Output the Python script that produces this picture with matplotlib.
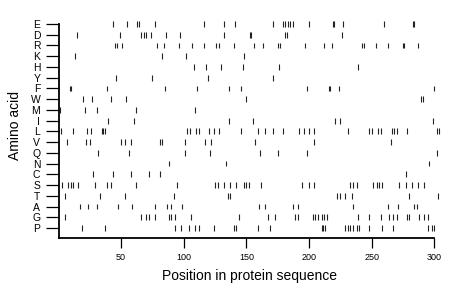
import numpy as np
import matplotlib
matplotlib.use("Agg")
import matplotlib.pyplot as plt

plt.rcParams['font.family'] = ['Liberation Sans', 'DejaVu Sans']

# amino acids, bottom row first
amino_acids = ['P', 'G', 'A', 'T', 'S', 'C', 'N', 'Q', 'V', 'L',
               'I', 'M', 'W', 'F', 'Y', 'H', 'K', 'R', 'D', 'E']

# positions of each residue in the sequence
pos_E = [44, 55, 63, 64, 77, 116, 132, 141, 171, 179, 181, 183, 185, 187,
         200, 219, 220, 227, 260, 283, 284]
pos_D = [15, 49, 66, 68, 70, 74, 86, 97, 132, 153, 154, 181, 182, 226]
pos_R = [45, 47, 51, 79, 84, 96, 107, 116, 126, 128, 140, 156, 163, 175, 177,
         197, 212, 218, 242, 244, 253, 263, 275, 276, 287]
pos_K = [13, 83, 102, 148]
pos_H = [108, 118, 130, 147, 176, 239]
pos_Y = [46, 75, 119, 171]
pos_F = [9, 10, 39, 85, 111, 136, 146, 198, 216, 217, 224, 300]
pos_W = [20, 27, 42, 54, 150, 289, 291]
pos_M = [1, 21, 31, 62, 109]
pos_I = [40, 60, 136, 155, 221, 225, 299]
pos_L = [2, 12, 23, 26, 35, 36, 37, 103, 105, 110, 112, 120, 124, 128, 146,
         159, 165, 171, 179, 192, 196, 200, 204, 231, 248, 250, 255, 257,
         266, 268, 270, 278, 302, 304]
pos_V = [7, 22, 25, 50, 53, 58, 81, 83, 101, 117, 122, 157, 204, 265]
pos_Q = [32, 56, 101, 121, 161, 175, 198, 302]
pos_N = [88, 134, 296]
pos_C = [28, 44, 58, 72, 81, 277]
pos_S = [3, 8, 10, 12, 16, 29, 39, 42, 62, 95, 125, 127, 132, 137, 142, 148,
         150, 152, 162, 194, 200, 204, 233, 235, 238, 251, 254, 256, 258,
         272, 277, 282, 287, 292]
pos_T = [5, 33, 53, 92, 135, 137, 222, 225, 229, 234, 280, 303]
pos_A = [17, 24, 31, 48, 59, 77, 87, 90, 99, 160, 165, 187, 191, 235, 263,
         271, 284, 286]
pos_G = [5, 66, 70, 72, 77, 88, 90, 93, 106, 144, 167, 173, 189, 191, 203,
         205, 207, 210, 212, 214, 239, 248, 257, 264, 267, 270, 278, 280,
         288, 292, 295]
pos_P = [19, 37, 93, 98, 104, 109, 112, 124, 140, 142, 159, 169, 210, 211,
         213, 229, 231, 233, 235, 238, 240, 248, 258, 267, 295, 298, 300]

positions = [pos_P, pos_G, pos_A, pos_T, pos_S, pos_C, pos_N, pos_Q, pos_V,
             pos_L, pos_I, pos_M, pos_W, pos_F, pos_Y, pos_H, pos_K, pos_R,
             pos_D, pos_E]

x_ticks = [50, 100, 150, 200, 250, 300]

fig = plt.figure(figsize=(4.6, 2.99), dpi=100)
ax = fig.add_axes([59 / 460, 1 - 238 / 299, (441 - 59) / 460, (238 - 14) / 299])

for i, pos in enumerate(positions):
    ax.vlines(pos, i - 0.27, i + 0.27, color='#222222', linewidth=0.8)

ax.set_xlim(0.56, 305.2)
ax.set_ylim(-0.93, 19.93)

ax.spines['top'].set_visible(False)
ax.spines['right'].set_visible(False)
ax.spines['left'].set_linewidth(1.3)
ax.spines['bottom'].set_linewidth(1.3)
ax.spines['left'].set_bounds(-0.93, 19)
ax.spines['bottom'].set_bounds(0.56, 300)

ax.set_xticks(x_ticks)
ax.set_xticklabels([str(t) for t in x_ticks], fontsize=6.5)
ax.set_yticks(range(len(amino_acids)))
ax.set_yticklabels(amino_acids, fontsize=7.5)
ax.tick_params(axis='x', length=7, width=0.9, pad=4)
ax.tick_params(axis='y', length=9.5, width=0.9, pad=4)

ax.set_xlabel('Position in protein sequence', fontsize=10, labelpad=5)
ax.set_ylabel('Amino acid', fontsize=10, labelpad=6)

fig.savefig('out.png', dpi=100)
